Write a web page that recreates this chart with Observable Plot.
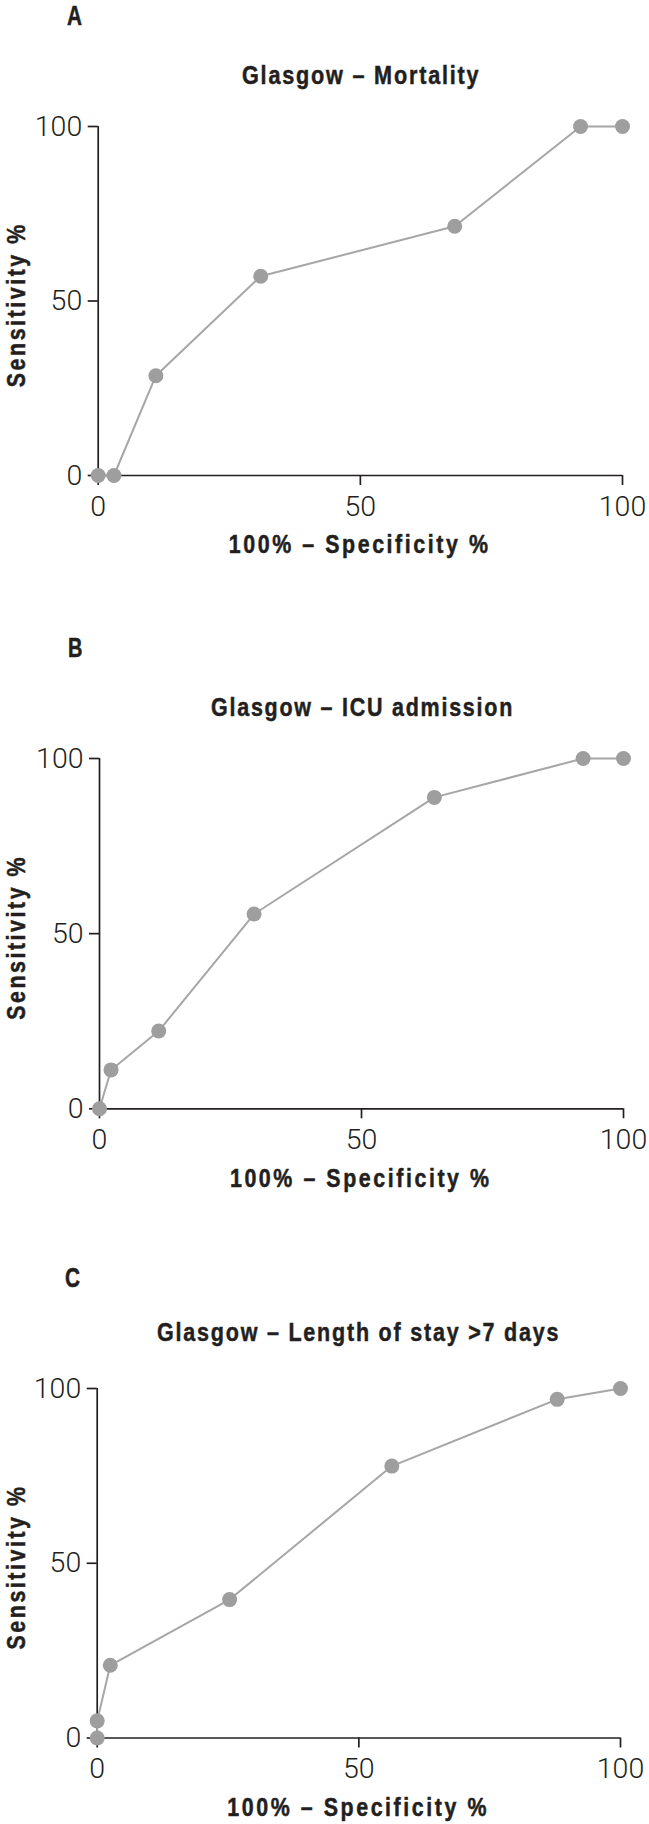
<!DOCTYPE html>
<html><head><meta charset="utf-8">
<script src="https://cdn.jsdelivr.net/npm/d3@7"></script>
<script src="https://cdn.jsdelivr.net/npm/@observablehq/plot@0.6"></script>
<style>
html,body{margin:0;padding:0;background:#fff;overflow:hidden;}
body{width:649px;height:1824px;position:relative;}
.lbl{position:absolute;font-family:"Liberation Sans",Arial,sans-serif;font-weight:bold;color:#231f20;line-height:1;white-space:nowrap;display:inline-block;transform-origin:0 0;-webkit-text-stroke:0.5px #231f20;}
.chart{position:absolute;left:0;}
.chart text.axis-title{letter-spacing:3px;}
</style></head><body>
<script>
// ---- data ----
const xTicks = [0, 50, 100];
const yTicks = [0, 50, 100];
const xLabel = "100% – Specificity %";
const yLabel = "Sensitivity %";
const panelLetters = ["A", "B", "C"];
const panelTitles = ["Glasgow – Mortality", "Glasgow – ICU admission", "Glasgow – Length of stay >7 days"];
const mortalityFpr = [0, 3, 11, 31, 68, 92, 100];
const mortalitySens = [0, 0, 28.6, 57.1, 71.4, 100, 100];
const icuFpr = [0, 2.2, 11.3, 29.5, 63.9, 92.3, 100];
const icuSens = [0, 11.1, 22.2, 55.6, 88.9, 100, 100];
const losFpr = [0, 0, 2.5, 25.3, 56.3, 87.9, 100];
const losSens = [0, 4.9, 20.8, 39.6, 77.8, 96.9, 100];

// ---- layout (page pixel positions / widths) ----
const layout = [
  {y100: 126, y0: 475, x0: 97.7, x100: 622, letterX: 66.7, letterW: 15, letterBase: 26, titleCx: 360, titleW: 236.6, titleBase: 84.3},
  {y100: 758, y0: 1108.3, x0: 99, x100: 623, letterX: 68.3, letterW: 14.4, letterBase: 658.3, titleCx: 361.4, titleW: 301.3, titleBase: 716.7},
  {y100: 1388.2, y0: 1737.7, x0: 96.7, x100: 620, letterX: 65, letterW: 15, letterBase: 1287.7, titleCx: 358, titleW: 401.5, titleBase: 1341}
];
const xLabelW = 261.7, yLabelW = 165;
const series = [[mortalityFpr, mortalitySens], [icuFpr, icuSens], [losFpr, losSens]];

const BASE = 0.8465;
const ink = "#231f20";
const boldFont = "'Liberation Sans',Arial,sans-serif";

function placeText(txt, fs, spacing, left, targetW, baseline, centered) {
  const el = document.createElement("div");
  el.className = "lbl";
  el.textContent = txt;
  el.style.fontSize = fs + "px";
  el.style.letterSpacing = spacing + "px";
  document.body.appendChild(el);
  const natural = el.getBoundingClientRect().width - spacing;
  const k = targetW / natural;
  el.style.left = (centered ? left - targetW / 2 : left) + "px";
  el.style.top = (baseline - BASE * fs) + "px";
  el.style.transform = `scaleX(${k})`;
}

series.forEach(([fpr, sens], i) => {
  const L = layout[i];
  placeText(panelLetters[i], 27, 0, L.letterX, L.letterW, L.letterBase, false);
  placeText(panelTitles[i], 26.5, 2.2, L.titleCx, L.titleW, L.titleBase, true);

  const data = fpr.map((x, j) => ({x, y: sens[j]}));
  const mt = 30, mb = 86;
  const h = mt + (L.y0 - L.y100) + mb;
  const chart = Plot.plot({
    width: 649, height: h,
    marginTop: mt, marginBottom: mb, marginLeft: L.x0, marginRight: 649 - L.x100,
    x: {domain: [0, 100]},
    y: {domain: [0, 100]},
    style: {background: "transparent", overflow: "visible", color: ink, fontFamily: "Roboto, 'Open Sans', sans-serif"},
    marks: [
      Plot.ruleY([0], {x1: 0, x2: 100, stroke: ink, strokeWidth: 1.7}),
      Plot.ruleX([0], {y1: 0, y2: 100, stroke: ink, strokeWidth: 1.7}),
      Plot.axisX({ticks: xTicks, tickSize: 10, tickPadding: 10, fontSize: 28.5, fontWeight: 300, label: null, strokeWidth: 1.7, tickFormat: d => String(d)}),
      Plot.axisY({ticks: yTicks, tickSize: 10, tickPadding: 6, fontSize: 28.5, fontWeight: 300, label: null, strokeWidth: 1.7, tickFormat: d => String(d)}),
      Plot.line(data, {x: "x", y: "y", stroke: "#a6a6a6", strokeWidth: 2}),
      Plot.dot(data, {x: "x", y: "y", r: 7.5, fill: "#9e9e9e", stroke: "none"}),
      Plot.text([xLabel], {text: d => d, frameAnchor: "bottom", textAnchor: "start", dx: -0.7 - xLabelW / 2, dy: 60, lineAnchor: "top", fontSize: 25, fontWeight: "bold", fontFamily: boldFont, fill: ink, stroke: ink, strokeWidth: 0.5}),
      Plot.text([yLabel], {text: d => d, frameAnchor: "left", textAnchor: "start", dx: 16 - L.x0, dy: 3.7 + yLabelW / 2, rotate: -90, fontSize: 25, fontWeight: "bold", fontFamily: boldFont, fill: ink, stroke: ink, strokeWidth: 0.5})
    ]
  });
  chart.classList.add("chart");
  chart.style.top = (L.y100 - mt) + "px";
  document.body.appendChild(chart);
  // condense the bold axis titles to the reference widths
  chart.querySelectorAll("text").forEach(t => {
    const s = t.textContent;
    if (s === xLabel || s === yLabel) {
      t.classList.add("axis-title");
      t.setAttribute("textLength", s === xLabel ? xLabelW : yLabelW);
      t.setAttribute("lengthAdjust", "spacingAndGlyphs");
    }
  });
});
</script>
</body></html>
